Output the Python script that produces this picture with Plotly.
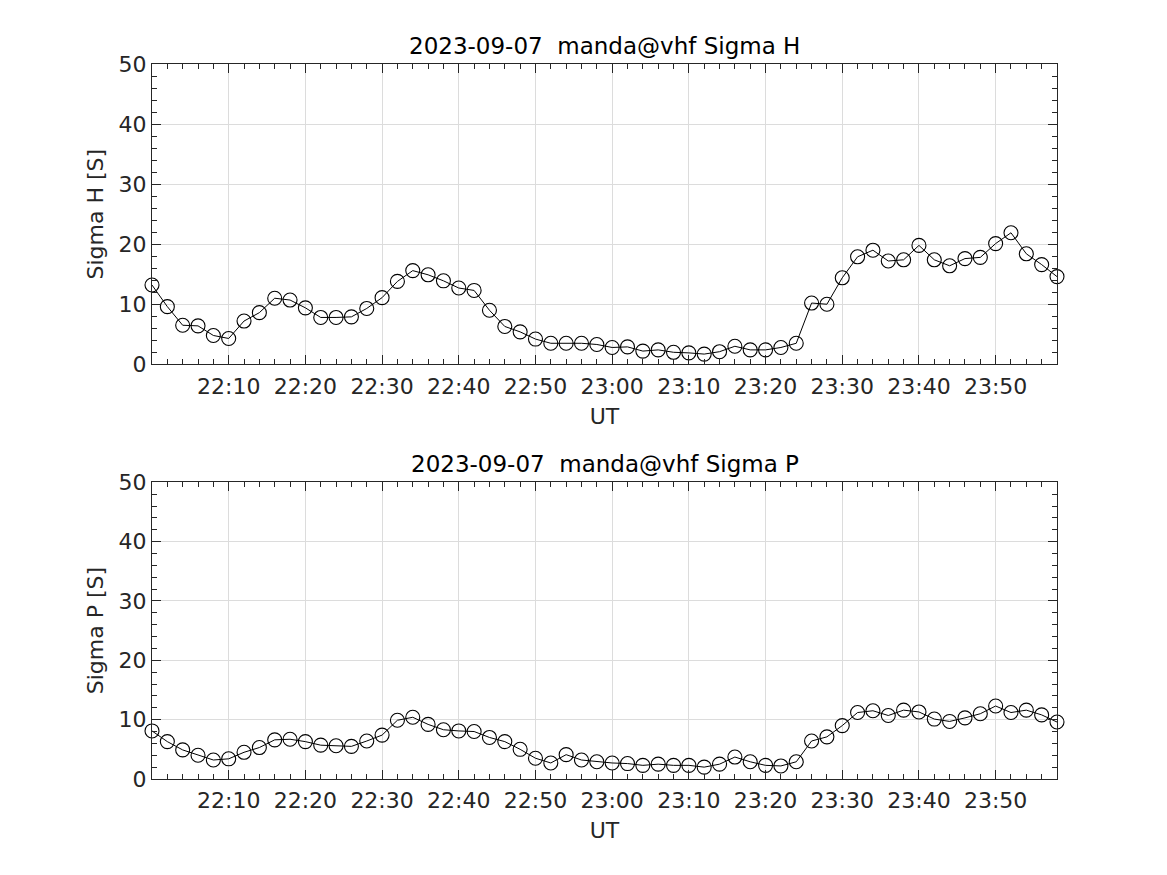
import plotly.graph_objects as go
import pandas as pd

# ---- data ----
start_time = "2023-09-07 22:00"
n_points = 60
times = pd.date_range(start_time, periods=n_points, freq="2min")

sigma_h = [13.2, 9.6, 6.5, 6.4, 4.8, 4.3, 7.2, 8.6, 11.0, 10.7,
           9.4, 7.8, 7.8, 7.9, 9.3, 11.1, 13.8, 15.6, 14.9, 13.9,
           12.7, 12.3, 9.0, 6.3, 5.4, 4.2, 3.5, 3.5, 3.5, 3.3,
           2.8, 2.9, 2.2, 2.4, 2.0, 1.9, 1.7, 2.1, 3.0, 2.4,
           2.4, 2.8, 3.5, 10.2, 10.0, 14.4, 17.9, 19.0, 17.2, 17.4,
           19.8, 17.4, 16.4, 17.6, 17.8, 20.1, 21.9, 18.4, 16.6, 14.6]

sigma_p = [8.1, 6.3, 4.9, 4.0, 3.2, 3.4, 4.5, 5.3, 6.6, 6.7,
           6.3, 5.7, 5.6, 5.5, 6.4, 7.4, 9.9, 10.4, 9.2, 8.3,
           8.1, 8.0, 7.0, 6.3, 5.0, 3.5, 2.7, 4.1, 3.2, 2.9,
           2.7, 2.6, 2.3, 2.5, 2.3, 2.3, 2.0, 2.5, 3.7, 2.9,
           2.3, 2.2, 2.9, 6.4, 7.1, 9.0, 11.2, 11.5, 10.7, 11.6,
           11.3, 10.1, 9.7, 10.3, 11.0, 12.3, 11.2, 11.6, 10.8, 9.6]

tick_labels = ["22:10", "22:20", "22:30", "22:40", "22:50",
               "23:00", "23:10", "23:20", "23:30", "23:40", "23:50"]
titles = ["2023-09-07 \u00a0manda@vhf Sigma H", "2023-09-07 \u00a0manda@vhf Sigma P"]
ylabels = ["Sigma H [S]", "Sigma P [S]"]
xlabel = "UT"
y_range = [0, 50]

tick_vals = [pd.Timestamp("2023-09-07 " + t) for t in tick_labels]
x_range = [times[0], times[-1]]

AX = "#262626"
GRID = "#dcdcdc"
FONT = "DejaVu Sans"

fig = go.Figure()
for k, (vals, yn, xn) in enumerate([(sigma_h, "y", "x"), (sigma_p, "y2", "x2")]):
    fig.add_trace(go.Scatter(
        x=times, y=vals, xaxis=xn, yaxis=yn, mode="lines+markers",
        line=dict(color="black", width=1),
        marker=dict(symbol="circle-open", size=14, color="black", line=dict(width=1.1)),
        showlegend=False, cliponaxis=False,
    ))

def xaxis_cfg(anchor):
    return dict(
        anchor=anchor, domain=[0, 1], type="date", range=x_range,
        tickvals=tick_vals, ticktext=tick_labels,
        ticks="inside", ticklen=9, tickcolor=AX, tickwidth=1,
        minor=dict(ticks="inside", ticklen=5, dtick=120000, tickcolor=AX, showgrid=False),
        showline=True, linecolor=AX, linewidth=1, mirror="allticks",
        showgrid=True, gridcolor=GRID, gridwidth=1,
        tickfont=dict(family=FONT, size=22, color=AX), ticklabelstandoff=2,
        title=dict(text=xlabel, font=dict(family=FONT, size=22, color=AX), standoff=10),
        zeroline=False,
    )

def yaxis_cfg(anchor, domain, label):
    return dict(
        anchor=anchor, domain=domain, range=y_range,
        tickvals=[0, 10, 20, 30, 40, 50],
        ticks="inside", ticklen=9, tickcolor=AX, tickwidth=1,
        minor=dict(ticks="inside", ticklen=5, dtick=2, tickcolor=AX, showgrid=False),
        showline=True, linecolor=AX, linewidth=1, mirror="allticks",
        showgrid=True, gridcolor=GRID, gridwidth=1,
        tickfont=dict(family=FONT, size=22, color=AX),
        title=dict(text=label, font=dict(family=FONT, size=22, color=AX), standoff=8),
        zeroline=False,
    )

fig.update_layout(
    width=1167, height=875,
    margin=dict(l=144, r=118, t=56, b=104),
    paper_bgcolor="white", plot_bgcolor="white",
    xaxis=xaxis_cfg("y"),
    yaxis=yaxis_cfg("x", [0.580, 1.0], ylabels[0]),
    xaxis2=xaxis_cfg("y2"),
    yaxis2=yaxis_cfg("x2", [0.0, 0.415], ylabels[1]),
    annotations=[
        dict(text=titles[0], xref="paper", yref="paper", x=0.5, y=1.0,
             xanchor="center", yanchor="bottom", yshift=3, showarrow=False,
             font=dict(family=FONT, size=23, color="black")),
        dict(text=titles[1], xref="paper", yref="paper", x=0.5, y=0.415,
             xanchor="center", yanchor="bottom", yshift=3, showarrow=False,
             font=dict(family=FONT, size=23, color="black")),
    ],
)

fig.write_html("out.html")
